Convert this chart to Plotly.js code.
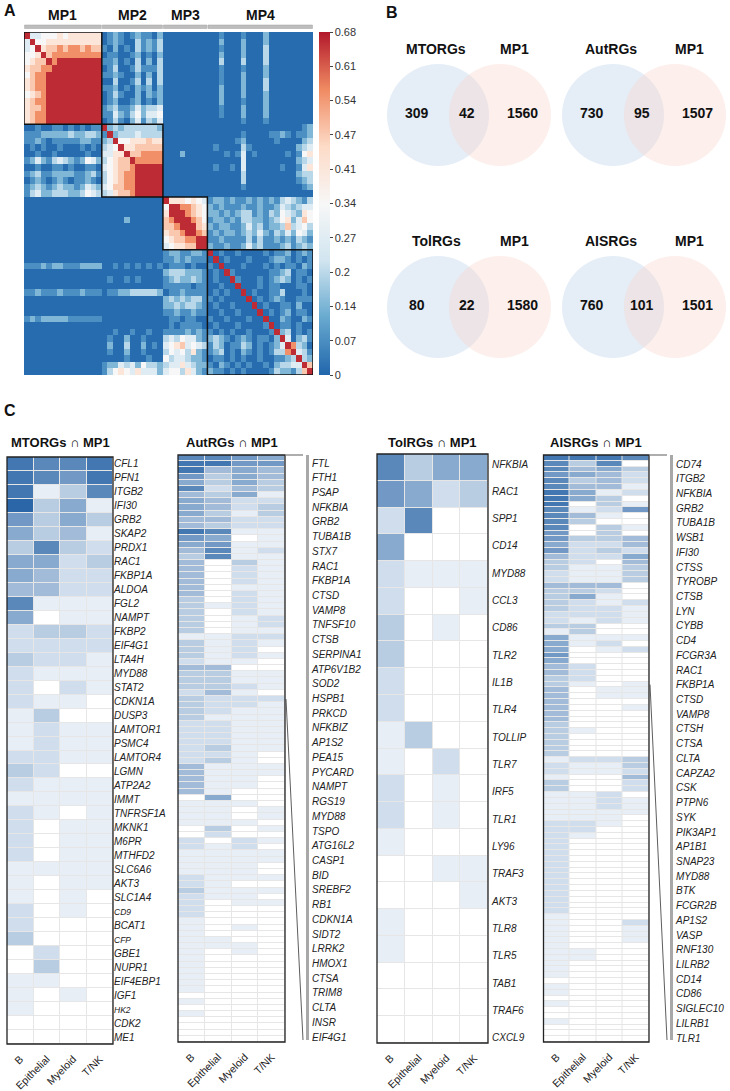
<!DOCTYPE html>
<html><head><meta charset="utf-8">
<script src="https://cdn.plot.ly/plotly-3.0.1.min.js"></script>
<style>html,body{margin:0;padding:0;background:#fff;}#chart{width:730px;height:1091px;}</style>
</head><body><div id="chart"></div>
<script>
// ---------------- DATA ----------------
// Panel A: meta-program similarity matrix, one digit per cell (index into corrLevels)
const corrLevels = [0.01, 0.07, 0.14, 0.20, 0.27, 0.34, 0.41, 0.48, 0.56, 0.66];
const mpNames = ['MP1', 'MP2', 'MP3', 'MP4'];
const mp1Rows = [
"94455565666666 01210121102 00000000 0010001000200000000",
"49556666666666 01210031213 00000000 0020002000200000000",
"45967787887877 10201031213 00000000 0010002000300000000",
"55697888888888 01100120102 00000000 0020002000300000000",
"56779899999999 11201030203 00000000 0030003000300000000",
"67788999999999 01300131113 00000000 0010001000200000000",
"57889999999999 11210020203 00000000 0010002000200000000",
"67889999999999 00300130303 00000000 0010002000300000000",
"67889999999999 11201021202 00000000 0020002000300000000",
"56789999999999 01310020212 00000000 0020002000200000000",
"67889999999999 01200120102 00000000 0020001000200000000",
"67789999999999 12311242334 00000000 0010002000200000000",
"67889999999999 11421352445 00000000 0010002000200000000",
"67889999999999 01310241324 00000000 0000001000100000000"];
const mp2Rows = [
"00100110101011 92323333332 00000000 0000000000000000012",
"11122222322332 19233343333 00000000 0000001000011210112",
"11210111112211 23955666766 00000000 0000012000001000023",
"01010010001010 34596677777 00000000 0100003100000000234",
"00100100000100 44669778888 00020000 0001014010000010156",
"12421343212542 35677988888 00000000 0000004000000000234",
"00100110100110 45677899999 00000000 0100104000000100146",
"12311222211231 35678899999 00000000 0000003000000000233",
"01210121011210 35678899999 00000000 0000003000000000123",
"12321232212432 45778899999 00000000 0000001000000000012",
"13422333223543 34677899999 00000000 0000000000000000000"];
const mp3Rows = [
"00000000000000 00000000000 96665654 1221211212121343213",
"00000000000000 00000000000 59988765 2121112112112432344",
"00000000000000 00000000000 69998765 2212123312132543265",
"00000000000000 00002000000 78999875 1221213322123562475",
"00000000000000 00000000000 77899976 2122112423122373453",
"00000000000000 00000000000 67789987 1212212324213242542",
"00000000000000 00000000000 56778899 1121111313112121321",
"00000000000000 00000000000 45667799 2112112423111231232"];
const mp4Rows = [
"00000000000000 00000000000 12211221 9010010000101120121",
"00000000000000 00000000000 11212111 0901000100012210101",
"11121221112222 00101010101 01110100 1090001000101011021",
"00000000000000 00000000000 23332221 0109100000011230110",
"00000000000000 01001010000 12322321 0100910001012320101",
"00000000000000 00000000000 11111011 0010090001011000110",
"11211121112111 01122333332 01121111 0101009010011300010",
"00000000000000 00000000000 23232331 1010000901012100111",
"00000000000000 00000000000 22323321 0100100090100110200",
"00000000000000 00000000000 11211211 0010010009010120110",
"12122222111111 00000000000 01101100 1001000100900210021",
"00000000000000 00000000000 01011110 0100010000190110100",
"00000000000000 00100100100 11112121 1010100100019230101",
"00000000000000 01002001000 34354421 2321012101102940231",
"00000000000000 02003002010 45674543 1320113201012498320",
"00000000000000 01002001000 35453621 1230102101013389431",
"00000000000000 00001000100 53443221 0110101001001123932",
"00000000000000 12243425332 34464322 1021010100102334497",
"00000000000000 13565464442 45536421 2110101000013221379"];
const cbTickVals = [0, 0.068, 0.136, 0.204, 0.272, 0.34, 0.408, 0.476, 0.544, 0.612, 0.68];
const cbTickText = ['0','0.07','0.14','0.2','0.27','0.34','0.41','0.47','0.54','0.61','0.68'];

// Panel B: Venn counts
const vennSets = ['MTORGs', 'AutRGs', 'TolRGs', 'AISRGs'];
const vennSetOnly = [309, 730, 80, 760];
const vennShared = [42, 95, 22, 101];
const vennMP1Only = [1560, 1507, 1580, 1501];

// Panel C: expression heatmaps (one digit per cell type: B, Epithelial, Myeloid, T/NK)
const cellTypes = ['B', 'Epithelial', 'Myeloid', 'T/NK'];
const mtorGenes = ['CFL1','PFN1','ITGB2','IFI30','GRB2','SKAP2','PRDX1','RAC1','FKBP1A','ALDOA','FGL2','NAMPT','FKBP2','EIF4G1','LTA4H','MYD88','STAT2','CDKN1A','DUSP3','LAMTOR1','PSMC4','LAMTOR4','LGMN','ATP2A2','IMMT','TNFRSF1A','MKNK1','M6PR','MTHFD2','SLC6A6','AKT3','SLC1A4','CD9','BCAT1','CFP','GBE1','NUPR1','EIF4EBP1','IGF1','HK2','CDK2','ME1'];
const mtorValues = ['8778','8768','8137','9351','6353','5341','3732','5523','5422','4422',
'7111','5011','2332','2222','3221','2111','2021','2110','1300','1211',
'1211','2211','3200','2111','1111','2101','2011','2011','2011','1111',
'1011','1010','2010','2000','3000','0200','0300','1100','1010','1000','0000','0000'];
const autGenes = ['FTL','FTH1','PSAP','NFKBIA','GRB2','TUBA1B','STX7','RAC1','FKBP1A','CTSD','VAMP8','TNFSF10','CTSB','SERPINA1','ATP6V1B2','SOD2','HSPB1','PRKCD','NFKBIZ','AP1S2','PEA15','PYCARD','NAMPT','RGS19','MYD88','TSPO','ATG16L2','CASP1','BID','SREBF2','RB1','CDKN1A','SIDT2','LRRK2','HMOX1','CTSA','TRIM8','CLTA','INSR','EIF4G1'];
const autValues = ['7765','8866','8454','6354','5353','7243','4351','5422','5423','5313',
'4422','4322','8711','6501','5611','4712','3711','4031','4021','4021',
'4021','4011','4021','3021','3121','3021','3012','3012','3011','1122',
'3121','3120','3121','2110','4400','3311','3311','3321','2410','3222',
'3221','3211','3111','2211','2211','2211','2211','2311','2210','2310',
'4111','4111','4110','4110','4100','0500','1110','1101','1101','1110',
'0301','0200','2021','2120','1111','1111','1110','1110','2111','2100',
'3111','2110','2011','2000','2000','1000','1010','1000','1100','1110',
'1010','1000','1000','1000','1000','1000','1000','0000','1000','0000',
'1000','0000','0000','0000','0000'];
const tolGenes = ['NFKBIA','RAC1','SPP1','CD14','MYD88','CCL3','CD86','TLR2','IL1B','TLR4','TOLLIP','TLR7','IRF5','TLR1','LY96','TRAF3','AKT3','TLR8','TLR5','TAB1','TRAF6','CXCL9'];
const tolValues = ['7355','6523','2700','5000','2111','2001','3010','3000','2000','2000',
'1300','1020','2010','2010','1000','0011','0001','1000','1000','0000','0000','0000'];
const aisGenes = ['CD74','ITGB2','NFKBIA','GRB2','TUBA1B','WSB1','IFI30','CTSS','TYROBP','CTSB','LYN','CYBB','CD4','FCGR3A','RAC1','FKBP1A','CTSD','VAMP8','CTSH','CTSA','CLTA','CAPZA2','CSK','PTPN6','SYK','PIK3AP1','AP1B1','SNAP23','MYD88','BTK','FCGR2B','AP1S2','VASP','RNF130','LILRB2','CD14','CD86','SIGLEC10','LILRB1','TLR1'];
const aisValues = ['8887','7370','7453','6542','7342','7441','8512','8530','8031','7126',
'7410','7300','7031','6030','6334','5224','6232','4225','3204','3113',
'2113','2113','4440','3320','3510','3212','3221','2221','2121','3300',
'1300','5111','5120','5012','6000','5000','4200','4200','3200','3101',
'4011','4011','4000','4001','4000','4000','3000','3100','3000','3000',
'3000','3000','1223','2113','2112','1004','3002','3002','1120','1121',
'1121','1111','1110','2210','2200','2100','2000','2000','2000','2000',
'2000','2000','2000','2000','2000','2000','2000','2000','2000','1000',
'1002','1001','1001','1001','1000','1100','1100','1000','1000','1000',
'0000','1000','1000','0000','1000','0000','0000','1000','0000','0000','0000'];

// ---------------- LAYOUT HELPERS ----------------
const W = 730, H = 1091;
const X = p => p / W, Y = p => 1 - p / H;
const FONT = 'Liberation Sans, Arial, Helvetica, sans-serif';
const smallLabelStyle = new Set(['CD9', 'CFP', 'HK2']);

const traces = [], shapes = [], annotations = [];
const layout = {
  width: W, height: H, margin: {l: 0, r: 0, t: 0, b: 0},
  paper_bgcolor: '#ffffff', plot_bgcolor: '#E6E6E6', showlegend: false,
  font: {family: FONT, color: '#222'}, shapes, annotations
};
const note = (o) => annotations.push(Object.assign({showarrow: false, xanchor: 'center', yanchor: 'middle'}, o));

// ---------------- PANEL A ----------------
const blockRows = [mp1Rows, mp2Rows, mp3Rows, mp4Rows];
const corrZ = [].concat(...blockRows).map(r => r.replace(/\s/g, '').split('').map(d => corrLevels[+d]));
const N = corrZ.length;
const idxN = [...Array(N).keys()];
const A = {l: 24, r: 313, t: 32, b: 375};
traces.push({
  type: 'heatmap', z: corrZ, x: idxN, y: idxN, xaxis: 'x', yaxis: 'y',
  zmin: 0, zmax: 0.68, hoverinfo: 'skip',
  colorscale: [[0, '#2166AC'], [1/6, '#67A9CF'], [2/6, '#D1E5F0'], [3/6, '#F7F7F7'], [4/6, '#FDDBC7'], [5/6, '#EF8A62'], [1, '#B2182B']],
  colorbar: {x: X(319), xanchor: 'left', y: Y((A.t + A.b) / 2), yanchor: 'middle',
    len: (A.b - A.t) / H, lenmode: 'fraction', thickness: 11, thicknessmode: 'pixels',
    outlinewidth: 0, xpad: 0, ypad: 0, ticks: 'outside', ticklen: 3, tickwidth: 1, tickcolor: '#444',
    tickvals: cbTickVals, ticktext: cbTickText, tickfont: {family: FONT, size: 11, color: '#333'}}
});
layout.xaxis = {domain: [X(A.l), X(A.r)], range: [-0.5, N - 0.5], visible: false, anchor: 'y'};
layout.yaxis = {domain: [Y(A.b), Y(A.t)], range: [N - 0.5, -0.5], visible: false, anchor: 'x'};
let start = 0;
blockRows.forEach((rows, k) => {
  const end = start + rows.length - 1;
  shapes.push({type: 'rect', xref: 'x', yref: 'y', x0: start - 0.5, x1: end + 0.5, y0: start - 0.5, y1: end + 0.5,
    line: {color: '#111', width: 1.5}, fillcolor: 'rgba(0,0,0,0)'});
  shapes.push({type: 'rect', xref: 'x', yref: 'paper', x0: start - 0.4, x1: end + 0.4, y0: Y(28.5), y1: Y(25),
    line: {color: '#A0A0A0', width: 0.5}, fillcolor: '#BDBDBD'});
  note({xref: 'x', yref: 'paper', x: (start + end) / 2, y: Y(15), text: '<b>' + mpNames[k] + '</b>',
    font: {family: FONT, size: 14, color: '#111'}});
  start = end + 1;
});

// panel letters
[['A', 10, 11], ['B', 392, 12], ['C', 10, 410]].forEach(([t, px, py]) =>
  note({xref: 'paper', yref: 'paper', x: X(px), y: Y(py), text: '<b>' + t + '</b>',
    font: {family: FONT, size: 16, color: '#111'}}));

// ---------------- PANEL B (Venn) ----------------
vennSets.forEach((name, i) => {
  const col = i % 2, row = Math.floor(i / 2);
  const cx = 438 + col * 175, cy = 115 + row * 192, r = 51, off = 62;
  const circ = (c, fill) => shapes.push({type: 'circle', xref: 'paper', yref: 'paper', layer: 'below',
    x0: X(c - r), x1: X(c + r), y0: Y(cy + r), y1: Y(cy - r), line: {width: 0}, fillcolor: fill});
  circ(cx, 'rgba(203,220,237,0.5)');
  circ(cx + off, 'rgba(246,214,206,0.38)');
  const txt = (t, px, py) => note({xref: 'paper', yref: 'paper', x: X(px), y: Y(py),
    text: '<b>' + t + '</b>', font: {family: FONT, size: 14, color: '#111'}});
  txt(name, cx - 2, cy - 66);
  txt('MP1', cx + 76, cy - 66);
  txt(vennSetOnly[i], cx - 21, cy - 2);
  txt(vennShared[i], cx + 29, cy - 2);
  txt(vennMP1Only[i], cx + 84, cy - 2);
});

// ---------------- PANEL C ----------------
const cPanels = [
  {name: 'MTORGs', values: mtorValues, genes: mtorGenes, l: 7, r: 113, t: 457, b: 1044, labelX: 115},
  {name: 'AutRGs', values: autValues, genes: autGenes, l: 178, r: 285, t: 455, b: 1042, labelX: 313, firstLab: 463, labStep: 14.72, bar: 306},
  {name: 'TolRGs', values: tolValues, genes: tolGenes, l: 377, r: 488, t: 454, b: 1043, labelX: 493, firstLab: 464, labStep: 27.33},
  {name: 'AISRGs', values: aisValues, genes: aisGenes, l: 543.5, r: 649, t: 455, b: 1042, labelX: 677, firstLab: 464, labStep: 14.72, bar: 670}
];
const fmtGene = g => smallLabelStyle.has(g) ? '<span style="font-size:8.5px"><i>' + g + '</i></span>' : '<i>' + g + '</i>';
cPanels.forEach((p, k) => {
  const ax = k + 2;
  const z = p.values.map(s => s.split('').map(Number));
  const n = z.length;
  traces.push({type: 'heatmap', z, x: [0, 1, 2, 3], y: [...Array(n).keys()], xaxis: 'x' + ax, yaxis: 'y' + ax,
    zmin: 0, zmax: 9, colorscale: [[0, '#FFFFFF'], [1, '#2B66A8']], showscale: false, xgap: 1, ygap: 1, hoverinfo: 'skip'});
  layout['xaxis' + ax] = {domain: [X(p.l), X(p.r)], anchor: 'y' + ax, range: [-0.5, 3.5], tickvals: [0, 1, 2, 3],
    ticktext: cellTypes, tickangle: -45, ticks: '', showgrid: false, zeroline: false, showline: false,
    ticklabelstandoff: 6, tickfont: {family: FONT, size: 10.5, color: '#222'}};
  const yax = {domain: [Y(p.b), Y(p.t)], anchor: 'x' + ax, range: [n - 0.5, -0.5], ticks: '', showgrid: false,
    zeroline: false, showline: false, showticklabels: false};
  if (k === 0) {
    Object.assign(yax, {showticklabels: true, side: 'right', tickvals: [...Array(n).keys()], ticktext: p.genes.map(fmtGene),
      tickfont: {family: FONT, size: 10, color: '#222'}, ticklabelstandoff: 0});
  }
  layout['yaxis' + ax] = yax;
  shapes.push({type: 'rect', xref: 'x' + ax + ' domain', yref: 'y' + ax + ' domain', x0: 0, x1: 1, y0: 0, y1: 1,
    line: {color: '#222', width: 1.3}, fillcolor: 'rgba(0,0,0,0)'});
  note({xref: 'paper', yref: 'paper', x: X((p.l + p.r) / 2), y: Y(442), text: '<b>' + p.name + ' ∩ MP1</b>',
    font: {family: FONT, size: 13, color: '#111'}});
  if (k > 0) {
    const lab = k + 5;
    const m = p.genes.length;
    const a = -(p.firstLab - p.t) / p.labStep;
    const b = a + (p.b - p.t) / p.labStep;
    layout['yaxis' + lab] = {overlaying: 'y' + ax, anchor: 'free', position: X(p.labelX - 2), side: 'right',
      range: [b, a], tickvals: [...Array(m).keys()], ticktext: p.genes.map(fmtGene), ticks: '', showgrid: false,
      zeroline: false, showline: false, tickfont: {family: FONT, size: 10, color: '#222'}};
    traces.push({type: 'scatter', x: [null], y: [null], xaxis: 'x' + ax, yaxis: 'y' + lab, mode: 'markers', hoverinfo: 'skip'});
  }
  if (p.bar) {
    const rowH = (p.b - p.t) / n;
    const m = p.genes.length;
    const y1 = p.t + (m - 0.5) * rowH;
    const xe = p.bar - 3;
    const line = (x0, ya, x1, yb) => shapes.push({type: 'line', xref: 'paper', yref: 'paper', x0: X(x0), y0: Y(ya), x1: X(x1), y1: Y(yb),
      line: {color: '#333', width: 0.8}});
    line(p.r + 1, p.t, xe, p.t);
    line(p.r + 1, y1, xe, p.b - 2);
    shapes.push({type: 'rect', xref: 'paper', yref: 'paper', x0: X(p.bar), x1: X(p.bar + 3), y0: Y(p.b - 2), y1: Y(p.t),
      line: {width: 0}, fillcolor: '#A8A8A8'});
  }
});

Plotly.newPlot('chart', traces, layout, {staticPlot: true, displayModeBar: false});
</script></body></html>
